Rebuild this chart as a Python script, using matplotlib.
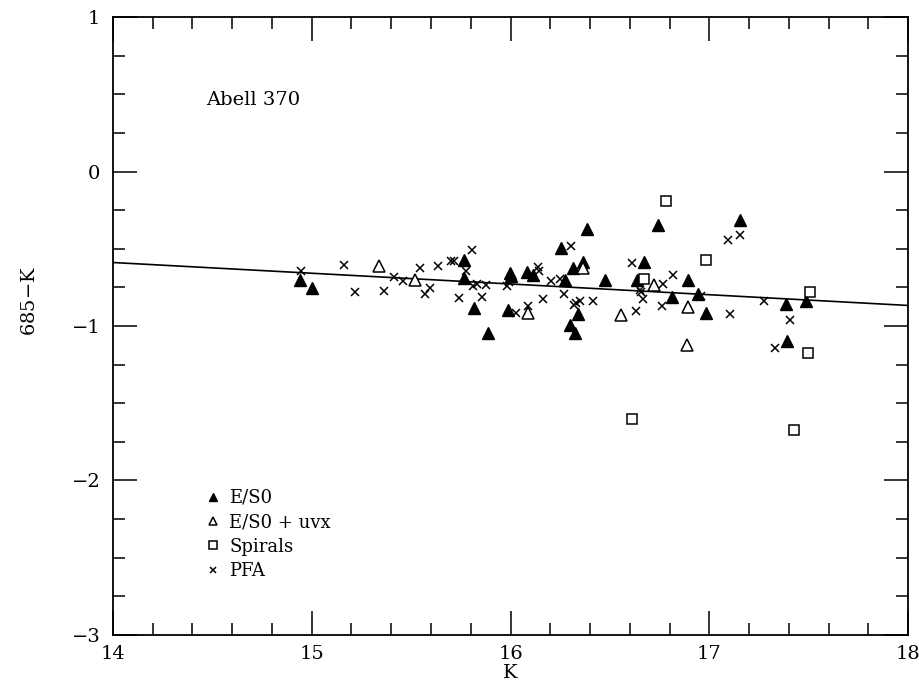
import numpy as np
import matplotlib
matplotlib.use("Agg")
import matplotlib.pyplot as plt
from matplotlib.ticker import MultipleLocator

plt.rcParams['font.family'] = ['DejaVu Serif']
plt.rcParams['mathtext.fontset'] = 'dejavuserif'

# E/S0 (filled triangles)
es0_k = [14.94, 15.00, 15.766, 15.766, 15.818, 15.888, 16.383, 16.744, 16.256, 16.363,
         16.315, 16.673, 15.997, 16.00, 16.085, 16.115, 16.276, 16.475, 16.635, 16.895,
         16.942, 16.814, 15.985, 16.342, 16.30, 16.326, 17.153, 16.984, 17.386, 17.485,
         17.393]
es0_c = [-0.70, -0.755, -0.576, -0.69, -0.885, -1.046, -0.373, -0.343, -0.492, -0.587,
         -0.624, -0.583, -0.656, -0.675, -0.652, -0.673, -0.705, -0.699, -0.701, -0.701,
         -0.796, -0.813, -0.895, -0.921, -0.992, -1.046, -0.311, -0.917, -0.857, -0.835,
         -1.094]

# E/S0 + uvx (open triangles)
uvx_k = [15.34, 15.52, 16.366, 16.724, 16.895, 16.556, 16.09, 16.886]
uvx_c = [-0.613, -0.705, -0.624, -0.733, -0.878, -0.932, -0.913, -1.126]

# Spirals (open squares)
sp_k = [16.781, 16.673, 16.985, 17.507, 17.497, 17.428, 16.61]
sp_c = [-0.194, -0.693, -0.576, -0.781, -1.172, -1.67, -1.60]

# PFA (crosses)
pfa_k = [14.944, 15.164, 15.219, 15.362, 15.412, 15.461, 15.545, 15.568, 15.597, 15.635,
         15.70, 15.715, 15.805, 15.775, 15.81, 15.83, 15.877, 15.742, 15.855, 16.304,
         16.613, 16.14, 16.145, 16.204, 16.249, 16.769, 16.816, 15.98, 15.994, 16.162,
         16.271, 16.32, 16.33, 16.35, 16.414, 16.651, 16.658, 16.668, 16.76, 16.63,
         16.028, 16.086, 17.096, 17.153, 16.957, 17.104, 17.275, 17.406, 17.331]
pfa_c = [-0.643, -0.604, -0.781, -0.775, -0.682, -0.708, -0.624, -0.79, -0.757, -0.613,
         -0.58, -0.58, -0.509, -0.647, -0.738, -0.727, -0.736, -0.816, -0.811, -0.483,
         -0.594, -0.615, -0.645, -0.71, -0.695, -0.727, -0.669, -0.738, -0.718, -0.824,
         -0.794, -0.861, -0.852, -0.835, -0.839, -0.766, -0.779, -0.826, -0.872, -0.904,
         -0.917, -0.87, -0.442, -0.41, -0.803, -0.921, -0.841, -0.964, -1.143]

# fitted colour-magnitude relation
fit_k = [14.0, 18.0]
fit_c = [-0.589, -0.867]

fig = plt.figure(figsize=(9.2, 6.92), dpi=100)
ax = fig.add_axes([0.1228, 0.0824, 0.8642, 0.893])

ax.plot(fit_k, fit_c, color='black', lw=1.2, zorder=1)
ax.plot(es0_k, es0_c, ls='none', marker='^', ms=8, color='black', label='E/S0')
ax.plot(uvx_k, uvx_c, ls='none', marker='^', ms=8, mfc='white', mec='black', mew=1.1,
        label='E/S0 + uvx')
ax.plot(sp_k, sp_c, ls='none', marker='s', ms=6.5, mfc='white', mec='black', mew=1.1,
        label='Spirals')
ax.plot(pfa_k, pfa_c, ls='none', marker='x', ms=5.5, color='black', mew=1.1, label='PFA')

ax.set_xlim(14, 18)
ax.set_ylim(-3, 1)
ax.xaxis.set_major_locator(MultipleLocator(1))
ax.xaxis.set_minor_locator(MultipleLocator(0.2))
ax.yaxis.set_major_locator(MultipleLocator(1))
ax.yaxis.set_minor_locator(MultipleLocator(0.25))
ax.tick_params(which='both', direction='in', top=True, right=True, width=1.1,
               labelsize=14)
ax.tick_params(axis='y', pad=9)
ax.tick_params(axis='x', pad=7)
ax.tick_params(which='major', length=17)
ax.tick_params(which='minor', length=8.5)
for s in ax.spines.values():
    s.set_linewidth(1.3)

ax.set_xlabel('K', fontsize=14, labelpad=1)
ax.set_ylabel('685$-$K', fontsize=14)
ax.yaxis.set_label_coords(-0.093, 0.54)

ax.text(14.47, 0.46, 'Abell 370', fontsize=14, ha='left', va='center')

ax.legend(loc='upper left', bbox_to_anchor=(0.11, 0.248), frameon=False, fontsize=13,
          handlelength=0.6, handletextpad=0.6, labelspacing=0.35, markerscale=0.8,
          borderaxespad=0)

fig.savefig('out.png', dpi=100)
